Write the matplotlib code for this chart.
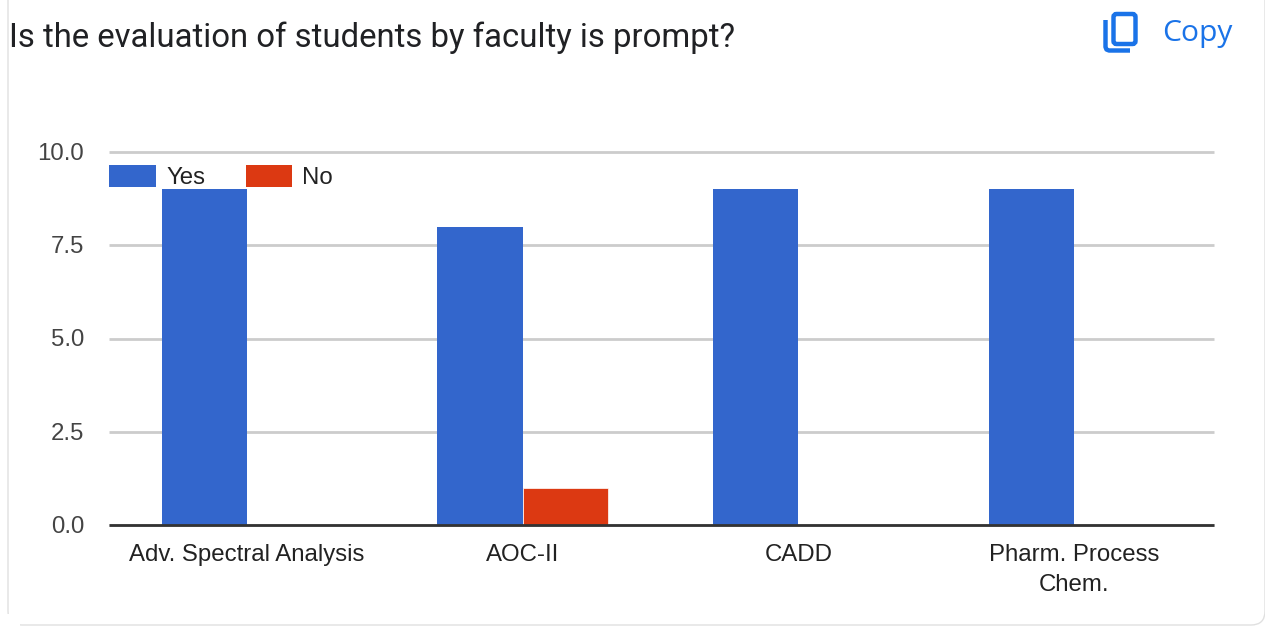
import matplotlib
matplotlib.use('Agg')
import matplotlib.pyplot as plt
from matplotlib.patches import FancyBboxPatch, Rectangle
from matplotlib.transforms import ScaledTranslation
import numpy as np

categories = ['Adv. Spectral Analysis', 'AOC-II', 'CADD', 'Pharm. Process\nChem.']
yes_values = [9, 8, 9, 9]
no_values = [0, 1, 0, 0]
y_ticks = [0, 2.5, 5, 7.5, 10]
y_labels = ['0.0', '2.5', '5.0', '7.5', '10.0']

W, H = 1265, 630
plt.rcParams['font.family'] = ['Liberation Sans', 'DejaVu Sans']

fig = plt.figure(figsize=(W / 100, H / 100), dpi=100)
fig.patch.set_facecolor('white')

# page level layer in pixel coords
bg = fig.add_axes([0, 0, 1, 1])
bg.set_xlim(0, W)
bg.set_ylim(H, 0)
bg.axis('off')
bg.add_patch(FancyBboxPatch((8, -30), 1257, 655, boxstyle='round,pad=0,rounding_size=14',
                            fc='white', ec='#e0e0e0', lw=1))
bg.add_patch(Rectangle((0, 614), 20, 16, fc='white', ec='none', zorder=3))
bg.text(9, 38, 'Is the evaluation of students by faculty is prompt?', fontsize=23.7,
        color='#202124', va='center', ha='left', family=['Roboto', 'DejaVu Sans'])
bg.text(1162, 34, 'Copy', fontsize=21.6, color='#1a73e8', va='center', ha='left',
        family=['Open Sans', 'DejaVu Sans'])
# copy icon
bg.add_patch(FancyBboxPatch((1113.5, 14), 22, 30, boxstyle='round,pad=0,rounding_size=3',
                            fc='none', ec='#1a73e8', lw=3.2))
bg.plot([1105.5, 1105.5, 1106.5, 1109, 1130], [20, 47, 49.5, 50.5, 50.5], color='#1a73e8',
        lw=3.2, solid_capstyle='butt', solid_joinstyle='round')

left, right, top, bottom = 109, 1214, 152, 525
ax = fig.add_axes([left / W, 1 - bottom / H, (right - left) / W, (bottom - top) / H])
ax.patch.set_alpha(0)

x = np.arange(len(categories))
w = 85.5 / 276
ax.bar(x - w / 2, yes_values, w, color='#3366cc', zorder=3, label='Yes')
ax.bar(x + w / 2, no_values, w, color='#dc3912', ec='white', lw=0.5, zorder=3, label='No')

ax.set_xlim(-0.5006, 3.508)
ax.set_ylim(0, 10)
ax.set_yticks(y_ticks)
ax.set_yticklabels(y_labels, fontsize=17.3, color='#444444')
ax.set_xticks(x)
ax.set_xticklabels(categories, fontsize=17.3, color='#222222', linespacing=1.42)
ax.tick_params(axis='both', length=0)
ax.tick_params(axis='x', pad=14)
ax.tick_params(axis='y', pad=18)
shift = ScaledTranslation(0, -2 / 100, fig.dpi_scale_trans)
for lab in ax.get_yticklabels():
    lab.set_va('center')
    lab.set_transform(lab.get_transform() + shift)
ax.grid(axis='y', color='#cccccc', lw=2, zorder=0, clip_on=False, solid_capstyle='butt')
ax.set_axisbelow(True)
for s in ['top', 'right', 'left']:
    ax.spines[s].set_visible(False)
ax.spines['bottom'].set_color('#333333')
ax.spines['bottom'].set_linewidth(2)
ax.spines['bottom'].set_capstyle('butt')
ax.spines['bottom'].set_zorder(4)

# legend sits over the gridlines, drawn by hand so it keeps its spot
fg = fig.add_axes([0, 0, 1, 1], zorder=5)
fg.set_xlim(0, W)
fg.set_ylim(H, 0)
fg.axis('off')
fg.patch.set_alpha(0)
fg.add_patch(Rectangle((109, 165), 47, 22, fc='#3366cc', ec='none'))
fg.text(166, 178, 'Yes', fontsize=17.3, color='#222222', va='center', ha='left')
fg.add_patch(Rectangle((246, 165), 46, 22, fc='#dc3912', ec='none'))
fg.text(302, 178, 'No', fontsize=17.3, color='#222222', va='center', ha='left')

fig.savefig('out.png', dpi=100)
